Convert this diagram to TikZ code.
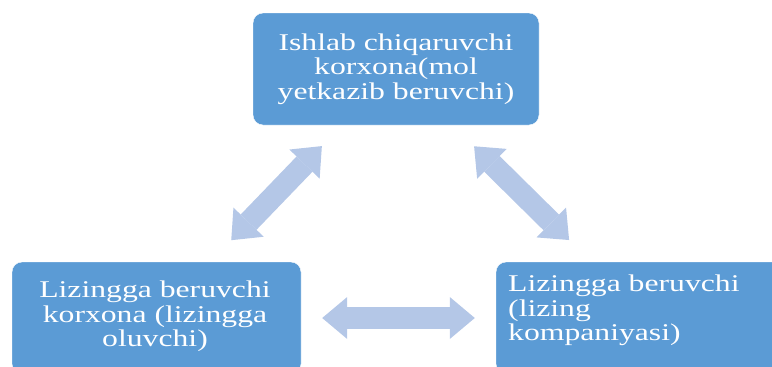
\documentclass[tikz,border=0pt]{standalone}
\usepackage{fontspec}
\setmainfont[FakeStretch=1.32]{Liberation Serif}
\usetikzlibrary{arrows.meta}
\definecolor{cardblue}{HTML}{5B9BD5}
\definecolor{linkblue}{HTML}{B4C7E7}
\begin{document}
\begin{tikzpicture}[x=1pt,y=-1pt,
  card/.style={fill=cardblue, draw=white, rounded corners=10pt, inner sep=0pt},
  cardtext/.style={text=white, inner sep=0pt, font=\fontsize{24}{24.5}\selectfont},
  link/.style={draw=linkblue, line width=22pt,
    {Triangle[width=42pt,length=25pt,line width=0pt]}-{Triangle[width=42pt,length=25pt,line width=0pt]}}]
\useasboundingbox (0,0) rectangle (772,367);
\node[card, cardtext, align=center, minimum width=286pt, minimum height=112pt] (maker) at (396,69) {Ishlab chiqaruvchi\\korxona(mol\\yetkazib beruvchi)};
\node[card, minimum width=289pt, minimum height=112pt] (lessee) at (156.5,318) {};
\node[card, minimum width=304pt, minimum height=112pt] (lessor) at (648,318) {};
\node[cardtext, align=center, anchor=north] (lesseetext) at (155,281) {Lizingga beruvchi\\korxona (lizingga\\oluvchi)};
\node[cardtext, align=left, anchor=north west] (lessortext) at (508,275) {Lizingga beruvchi\\(lizing\\kompaniyasi)};
\path[link, shorten <=30pt, shorten >=29pt] (lessee) -- (maker);
\path[link, shorten <=30pt, shorten >=31pt] (maker) -- (lessor);
\path[link, shorten <=21pt, shorten >=21pt] (lessee) -- (lessor);
\end{tikzpicture}
\end{document}
